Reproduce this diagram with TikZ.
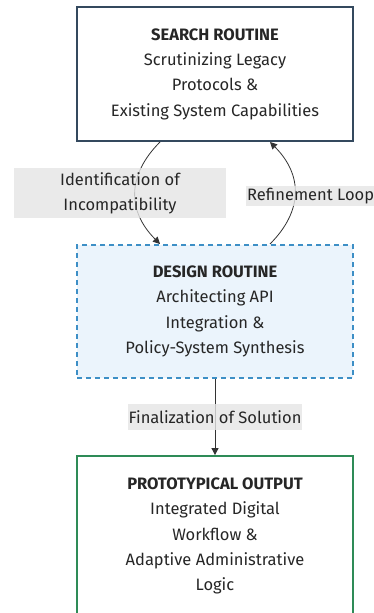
\documentclass[tikz,border=0pt]{standalone}
\usepackage{fontspec}
\setmainfont{Fira Sans}
\usetikzlibrary{arrows.meta}
\definecolor{searchcol}{HTML}{34495E}
\definecolor{designcol}{HTML}{3D8FC6}
\definecolor{designfill}{HTML}{EBF4FC}
\definecolor{outcol}{HTML}{2E8B57}
\definecolor{labelfill}{HTML}{E5E5E5}
\definecolor{edgecol}{HTML}{333333}
\begin{document}
\begin{tikzpicture}[x=1pt,y=-1pt,
  boxtext/.style={align=center,font=\fontsize{16.5}{25.3}\selectfont,text=black!85},
  box/.style={boxtext,minimum width=276pt,inner sep=0pt},
  lbl/.style={fill=labelfill,fill opacity=0.8,text opacity=1,font=\fontsize{16.5}{25.3}\selectfont,text=black!85,align=center,inner sep=0pt},
  edge/.style={draw=edgecol,line width=0.8pt,-{Triangle[length=7pt,width=7pt]}}]
\useasboundingbox (0,0) rectangle (374,613);
\clip (0,0) rectangle (374,613);
\node[box,draw=searchcol,line width=1.8pt,fill=white,minimum height=134pt] (search) at (215,74)
  {\textbf{SEARCH ROUTINE}\\Scrutinizing Legacy\\Protocols \&\\Existing System Capabilities};
\node[box,draw=designcol,line width=1.8pt,dashed,dash pattern=on 5pt off 4pt,fill=designfill,minimum height=133pt] (design) at (215,311.5)
  {\textbf{DESIGN ROUTINE}\\Architecting API\\Integration \&\\Policy-System Synthesis};
\node[box,draw=outcol,line width=1.8pt,fill=white,minimum height=160pt] (out) at (215,536)
  {\textbf{PROTOTYPICAL OUTPUT}\\Integrated Digital\\Workflow \&\\Adaptive Administrative\\Logic};
\coordinate (s1) at (160,142);
\coordinate (d1) at (160,244);
\coordinate (d2) at (270,244);
\coordinate (s2) at (270,142);
\draw[edge] (s1) .. controls (127,175) and (127,211) .. (d1);
\draw[edge] (d2) .. controls (303,211) and (303,175) .. (s2);
\node[lbl,minimum width=212pt,minimum height=50pt] (l1) at (120,193) {Identification of\\Incompatibility};
\node[lbl,minimum height=20pt,inner xsep=1pt,anchor=west] (l2) at (246,196) {Refinement Loop};
\draw[edge] (design.south) -- (out.north);
\node[lbl,minimum height=26pt,inner xsep=1pt] (l3) at (215,417) {Finalization of Solution};
\end{tikzpicture}
\end{document}
